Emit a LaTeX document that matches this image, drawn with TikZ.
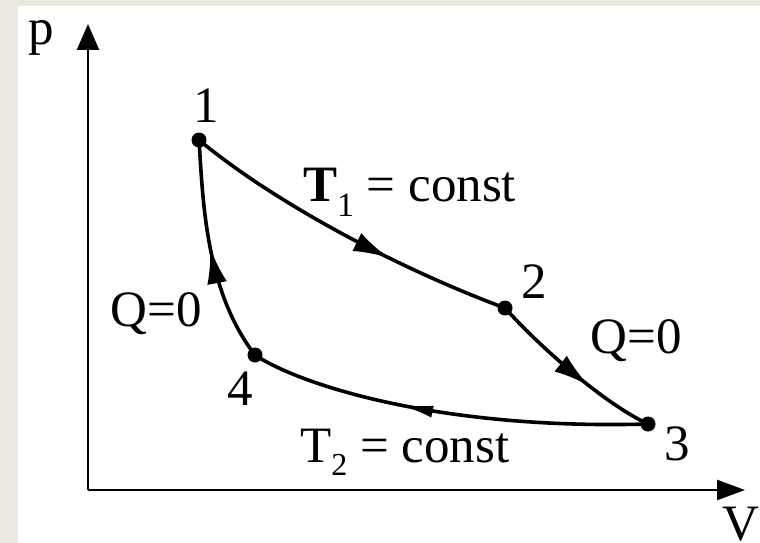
\documentclass[tikz,border=0pt]{standalone}
\usepackage{fontspec}
\setmainfont{Liberation Serif}
\usetikzlibrary{arrows.meta,decorations.markings}
\definecolor{framegray}{RGB}{236,233,224}
\tikzset{
  curve/.style={line width=3.6pt, line cap=round, line join=round},
  axisline/.style={line width=2.6pt},
  lbl/.style={font=\fontsize{51}{51}\selectfont, anchor=base, inner sep=0pt},
  dot/.style={circle, fill=black, inner sep=0pt, minimum size=15pt},
  bigtip/.tip={Latex[length=36pt,width=20pt]},
  slimtip/.tip={Latex[length=34pt,width=12pt]},
  midarrow/.style={postaction={decorate}, decoration={markings, mark=at position #1 with {\arrow{bigtip}}}},
  thinarrow/.style={postaction={decorate}, decoration={markings, mark=at position #1 with {\arrow{slimtip}}}},
}
\begin{document}
\begin{tikzpicture}[x=1pt,y=-1pt]
  \useasboundingbox (0,0) rectangle (760,543);
  \fill[white] (0,0) rectangle (760,543);
  \fill[framegray] (0,0) rectangle (760,6);
  \fill[framegray] (0,0) rectangle (18,543);

  % axes
  \coordinate (o) at (88,490);
  \coordinate (ytop) at (88,24);
  \coordinate (xend) at (745,490);
  \draw[axisline, -{Triangle[length=26pt,width=22pt]}] (o) -- (ytop);
  \draw[axisline, -{Triangle[length=28pt,width=20pt]}] (o) -- (xend);
  \node[lbl] (plabel) at (41,45) {p};
  \node[lbl] (vlabel) at (741,540) {V};

  % state points
  \coordinate (p1) at (199,140);
  \coordinate (p2) at (505,308);
  \coordinate (p3) at (648,424);
  \coordinate (p4) at (255,355);

  % processes
  \draw[curve, midarrow=0.64] (p1) .. controls (276,204) and (402,270) .. (p2);
  \draw[curve, midarrow=0.62] (p2) .. controls (538,345) and (603,403) .. (p3);
  \draw[curve, thinarrow=0.62] (p3) .. controls (440,430) and (300,385) .. (p4);
  \draw[curve, midarrow=0.52] (p4) .. controls (205,290) and (203,200) .. (p1);

  \node[dot] (d1) at (p1) {};
  \node[dot] (d2) at (p2) {};
  \node[dot] (d3) at (p3) {};
  \node[dot] (d4) at (p4) {};

  % labels
  \node[lbl] (l1) at (206,122) {1};
  \node[lbl] (l2) at (534,298) {2};
  \node[lbl] (l3) at (677,460) {3};
  \node[lbl] (l4) at (240,405) {4};
  \node[lbl] (qleft) at (156,326) {Q=0};
  \node[lbl] (qright) at (636,353) {Q=0};
  \node[lbl, anchor=base west] (t1) at (303,201) {{\bfseries T}\raisebox{-15pt}{\fontsize{34}{34}\selectfont 1} = const};
  \node[lbl, anchor=base west] (t2) at (300,462) {T\raisebox{-13pt}{\fontsize{32}{32}\selectfont 2} = const};
\end{tikzpicture}
\end{document}
